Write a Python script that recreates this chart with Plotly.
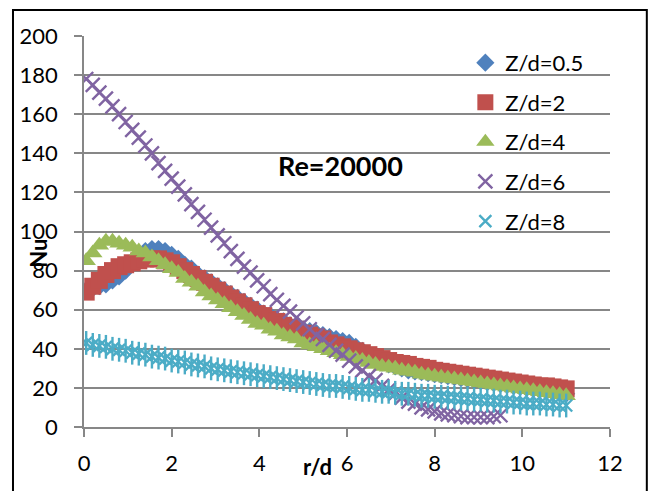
import plotly.graph_objects as go

# r/d positions (shared by all series)
R = [0.05, 0.20, 0.35, 0.50, 0.65, 0.80, 0.95, 1.10, 1.25, 1.40,
     1.55, 1.70, 1.85, 2.00, 2.15, 2.30, 2.45, 2.60, 2.75, 2.90,
     3.05, 3.20, 3.35, 3.50, 3.65, 3.80, 3.95, 4.10, 4.25, 4.40,
     4.55, 4.70, 4.85, 5.00, 5.15, 5.30, 5.45, 5.60, 5.75, 5.90,
     6.05, 6.20, 6.35, 6.50, 6.65, 6.80, 6.95, 7.10, 7.25, 7.40,
     7.55, 7.70, 7.85, 8.00, 8.15, 8.30, 8.45, 8.60, 8.75, 8.90,
     9.05, 9.20, 9.35, 9.50, 9.65, 9.80, 9.95, 10.10, 10.25, 10.40,
     10.55, 10.70, 10.85, 11.00]

NU_Z05 = [70, 71, 72, 73, 75, 77, 80, 84, 88, 90,
          91, 91, 90, 88, 86, 83, 81, 78, 76, 74,
          72, 70, 68, 66, 64, 62, 60, 58, 57, 55,
          54, 52, 51, 50, 49, 48, 47, 46, 45, 44,
          43, 41, 39, 37, 35, 33, 32, 31, 30, 29,
          28.5, 28, 27.5, 27, 26.5, 26, 25.5, 25, 24.5, 24,
          23.5, 23, 22.5, 22, 21.5, 21, 20.5, 20, 19.5, 19,
          18.5, 18, 17.5, 17]

NU_Z2 = [69, 72, 75, 78, 80, 82, 83, 84, 85, 86,
         86, 86, 85, 84, 82, 80, 78, 76, 74, 72,
         70, 68, 66, 64, 62, 60, 58, 57, 55, 54,
         52, 51, 50, 48, 47, 46, 45, 43, 42, 41,
         40, 39, 38, 37, 36, 35, 34, 33, 32.5, 32,
         31, 30.5, 30, 29, 28.5, 28, 27.5, 27, 26.5, 26,
         25.5, 25, 24.5, 24, 23.5, 23, 22.5, 22, 21.5, 21,
         21, 20.5, 20, 19.5]

NU_Z4 = [85, 89, 93, 95, 95, 94, 93, 92, 90, 89,
         87, 85, 83, 81, 79, 76, 74, 72, 69, 67,
         65, 63, 61, 59, 57, 55, 53, 52, 50, 49,
         47, 46, 45, 43, 42, 41, 40, 39, 38, 37,
         36, 35, 34, 33, 32, 31, 30.5, 30, 29, 28.5,
         28, 27, 26.5, 26, 25.5, 25, 24.5, 24, 23.5, 23,
         22.5, 22, 21.5, 21, 20.5, 20, 19.5, 19, 18.5, 18,
         17.5, 17, 16.5, 16]

NU_Z6 = [178, 175, 171, 168, 164, 160, 156, 152, 148, 144,
         140, 135, 131, 127, 123, 119, 114, 110, 106, 102,
         98, 94, 90, 86, 82, 79, 75, 72, 68, 65,
         62, 59, 56, 53, 50, 47, 45, 42, 39, 37,
         34, 31, 29, 26, 24, 21, 19, 17, 15, 13,
         12, 10, 9, 8, 7, 6.5, 6, 5.5, 5, 5,
         5, 5, 5.5, 6]

NU_Z8 = [43, 42, 41.5, 41, 40, 39.5, 39, 38, 37.5, 37,
         36, 35.5, 35, 34, 33.5, 33, 32, 31.5, 31, 30,
         29.5, 29, 28.5, 28, 27.5, 27, 26.5, 26, 25.5, 25,
         24.5, 24, 23.5, 23, 22.5, 22, 21.5, 21, 21, 20.5,
         20, 19.5, 19, 19, 18.5, 18, 18, 17.5, 17, 17,
         16.5, 16, 16, 15.5, 15.5, 15, 15, 14.5, 14.5, 14,
         14, 13.5, 13.5, 13, 13, 12.5, 12.5, 12, 12, 12,
         11.5, 11.5, 11, 11]

X_TICKS = [0, 2, 4, 6, 8, 10, 12]
Y_TICKS = [0, 20, 40, 60, 80, 100, 120, 140, 160, 180, 200]

FONT = "Lato"
BLUE, RED, GREEN, PURPLE, CYAN = "#4F81BD", "#C0504D", "#9BBB59", "#8064A2", "#4BACC6"

fig = go.Figure()
fig.add_trace(go.Scatter(x=R, y=NU_Z05, mode="markers", name="Z/d=0.5", legendgroup="a",
                         marker=dict(symbol="diamond", size=14, color=BLUE, line=dict(width=0))))
fig.add_trace(go.Scatter(x=R, y=NU_Z2, mode="markers", name="Z/d=2", legendgroup="b",
                         marker=dict(symbol="square", size=17, color=RED, line=dict(width=0))))
fig.add_trace(go.Scatter(x=R, y=NU_Z4, mode="markers", name="Z/d=4", legendgroup="c",
                         marker=dict(symbol="triangle-up", size=17, color=GREEN, line=dict(width=0))))
fig.add_trace(go.Scatter(x=R[:len(NU_Z6)], y=NU_Z6, mode="markers", name="Z/d=6", legendgroup="d",
                         marker=dict(symbol="x-thin", size=14, color=PURPLE,
                                     line=dict(width=2.4, color=PURPLE))))
fig.add_trace(go.Scatter(x=R, y=NU_Z8, mode="markers", name="Z/d=8", legendgroup="e",
                         marker=dict(symbol="x-thin", size=12, color=CYAN,
                                     line=dict(width=2.4, color=CYAN))))
fig.add_trace(go.Scatter(x=R, y=NU_Z8, mode="markers", name="Z/d=8", legendgroup="e",
                         showlegend=False,
                         marker=dict(symbol="line-ns", size=17, color=CYAN,
                                     line=dict(width=2.4, color=CYAN))))

grid = "#878787"
fig.update_layout(
    width=650, height=491,
    margin=dict(l=84, r=40, t=36, b=64),
    paper_bgcolor="white", plot_bgcolor="white",
    font=dict(family=FONT, size=22, color="black"),
    showlegend=True,
    legend=dict(x=0.725, y=0.985, xanchor="left", yanchor="top",
                bgcolor="rgba(0,0,0,0)", tracegroupgap=8,
                traceorder="grouped", font=dict(family=FONT, size=22)),
    xaxis=dict(range=[0, 12], tickvals=X_TICKS, ticktext=[str(v) for v in X_TICKS],
               showgrid=False, zeroline=False, showline=True, linecolor=grid, linewidth=1.5,
               ticks="outside", ticklen=8, tickcolor=grid, tickwidth=1.5,
               ticklabelstandoff=8,
               tickfont=dict(family=FONT, size=22)),
    yaxis=dict(range=[0, 200], tickvals=Y_TICKS, ticktext=[str(v) for v in Y_TICKS],
               showgrid=True, gridcolor=grid, gridwidth=1.5, zeroline=False,
               showline=True, linecolor=grid, linewidth=1.5,
               ticks="outside", ticklen=8, tickcolor=grid, tickwidth=1.5,
               ticklabelstandoff=12,
               tickfont=dict(family=FONT, size=22)),
)

fig.add_annotation(text="<b>Re=20000</b>", x=0.487, y=0.670, xref="paper", yref="paper",
                   xanchor="center", yanchor="middle",
                   showarrow=False, font=dict(family=FONT, size=27, color="black"))
fig.add_annotation(text="<b>r/d</b>", x=0.443, y=-0.102, xref="paper", yref="paper",
                   xanchor="center", yanchor="middle",
                   showarrow=False, font=dict(family=FONT, size=22, color="black"))
fig.add_annotation(text="<b>Nu</b>", x=-0.088, y=0.445, xref="paper", yref="paper",
                   xanchor="center", yanchor="middle",
                   showarrow=False, textangle=-90, font=dict(family=FONT, size=22, color="black"))

fig.add_shape(type="rect", xref="paper", yref="paper", x0=-0.135, x1=1.07, y0=-0.3, y1=1.0665,
              line=dict(color="black", width=2), fillcolor="rgba(0,0,0,0)", layer="above")

fig.write_html("out.html")
